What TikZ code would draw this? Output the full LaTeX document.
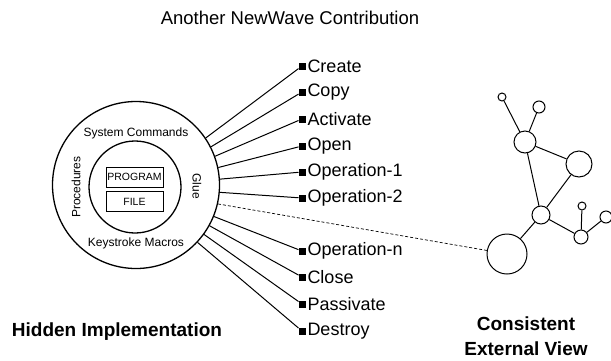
\documentclass[tikz,border=0pt]{standalone}
\usepackage{fontspec}
\setmainfont{Liberation Sans}
\usetikzlibrary{positioning}

\tikzset{oper/.style = {anchor=west, inner sep=0pt, font=\fontsize{18}{20}\selectfont},
         puce/.style = {fill, draw, minimum size=6pt, inner sep=0pt},
         couche/.style = {font=\fontsize{12}{14}\selectfont, inner sep=0pt},
         boite/.style = {draw, line width=0.9pt, minimum width=57pt, minimum height=20pt, inner sep=0pt,
                         font=\fontsize{10.5}{12}\selectfont},
         titre/.style = {font=\bfseries\fontsize{19}{21}\selectfont, inner sep=0pt}
        }

\begin{document}
\begin{tikzpicture}[x=1pt, y=-1pt, line width=1pt]
\useasboundingbox (0,0) rectangle (611,360);
\node[inner sep=0pt, font=\fontsize{18.5}{20}\selectfont] (titre) at (290,18) {Another NewWave Contribution};
% implementation cachee
\node[circle, draw, line width=1.3pt, minimum size=167pt] (outer) at (136,185) {};
\node[circle, draw, line width=1.3pt, minimum size=92pt] (inner) at (135,187) {};
\node[boite] (program) at (134.5,177) {PROGRAM};
\node[boite, below=4pt of program] (file) {FILE};
\node[couche] (syscmd) at (136,133) {System Commands};
\node[couche] (keys) at (136,243) {Keystroke Macros};
\node[couche, rotate=90] (proc) at (76,187) {Procedures};
\node[couche, rotate=-90] (glue) at (197,186) {Glue};
\node[titre] (hidden) at (117,332) {Hidden Implementation};
% operations
\foreach \t/\a/\y [count=\i] in {Create/34/66, Copy/27/92, Activate/20/119, Open/12/146, Operation-1/4/172,
                                 Operation-2/-5/198, Operation-n/-22/251, Close/-29/277, Passivate/-36/304, Destroy/-43/331}
   {\node[puce] (p\i) at (302,\y) {};
    \node[oper] (op\i) at (307,\y) {\t};
    \draw (outer.\a) -- (p\i);};
% vue externe
\foreach \n/\x/\y/\r in {big/507/254/40, mid/541/215/18, haut/525/142/22, droit/579/164/26, pt1/502/97/8,
                         pt2/539/107/12, bas/581/237/14, pt3/582/206/8, pt4/606/217/12}
   \node[circle, draw, minimum size=\r pt, inner sep=0pt] (\n) at (\x,\y) {};
\foreach \p/\f in {big/mid, mid/haut, mid/droit, haut/droit, haut/pt1, haut/pt2, mid/bas, bas/pt3, bas/pt4}
   \draw (\p) -- (\f);
\draw[densely dashed, line width=0.7pt] (outer.-13) -- (big.170);
\node[titre] (consist) at (526,324) {Consistent};
\node[titre] (extview) at (526,349) {External View};
\end{tikzpicture}
\end{document}
